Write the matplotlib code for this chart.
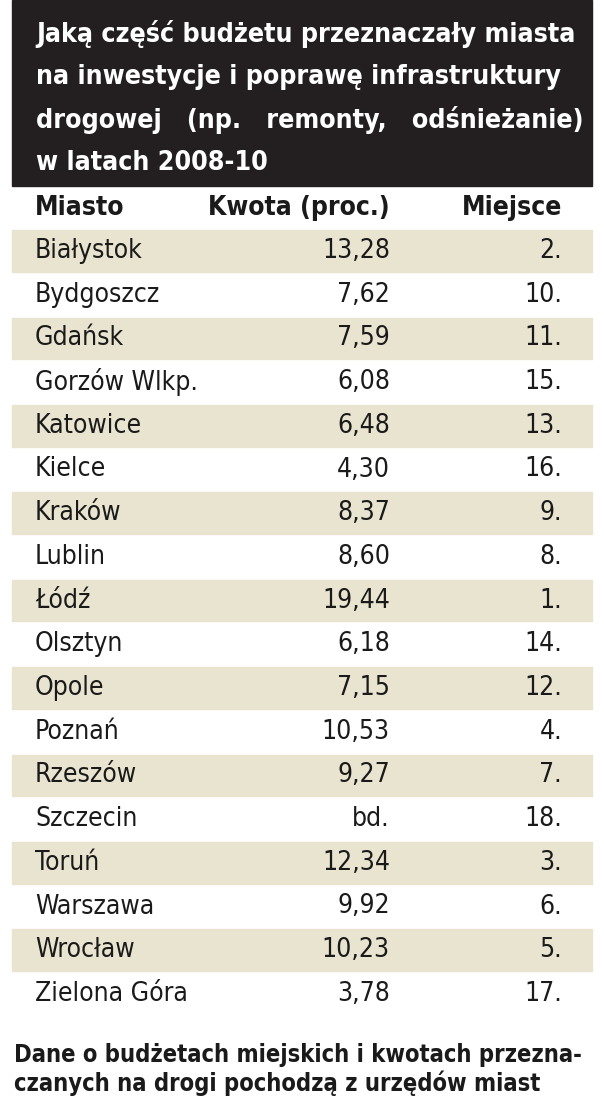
import matplotlib.pyplot as plt
from matplotlib.patches import Rectangle

title_lines = ["Jaką część budżetu przeznaczały miasta",
               "na inwestycje i poprawę infrastruktury",
               "drogowej   (np.   remonty,   odśnieżanie)",
               "w latach 2008-10"]
headers = ["Miasto", "Kwota (proc.)", "Miejsce"]
cities = ["Białystok", "Bydgoszcz", "Gdańsk", "Gorzów Wlkp.", "Katowice", "Kielce",
          "Kraków", "Lublin", "Łódź", "Olsztyn", "Opole", "Poznań", "Rzeszów",
          "Szczecin", "Toruń", "Warszawa", "Wrocław", "Zielona Góra"]
amounts = ["13,28", "7,62", "7,59", "6,08", "6,48", "4,30", "8,37", "8,60", "19,44",
           "6,18", "7,15", "10,53", "9,27", "bd.", "12,34", "9,92", "10,23", "3,78"]
ranks = ["2.", "10.", "11.", "15.", "13.", "16.", "9.", "8.", "1.", "14.", "12.",
         "4.", "7.", "18.", "3.", "6.", "5.", "17."]
footer = ["Dane o budżetach miejskich i kwotach przezna-",
          "czanych na drogi pochodzą z urzędów miast"]

plt.rcParams['font.family'] = ['DejaVu Sans']
fig = plt.figure(figsize=(6.04, 11.16), dpi=100)
ax = fig.add_axes([0, 0, 1, 1])
ax.set_xlim(0, 604)
ax.set_ylim(1116, 0)
ax.axis('off')

fs = dict(fontstretch='condensed', fontweight='bold', color='#1a1a1a')

# title box
ax.add_patch(Rectangle((12, 0), 580, 186, color='#231f20'))
for i, line in enumerate(title_lines):
    ax.text(36, 34 + i * 43, line, fontsize=19.2, color='white', va='center',
            fontweight='bold', fontstretch='condensed')

# header
ax.text(35, 208, headers[0], fontsize=19, va='center', **fs)
ax.text(390, 208, headers[1], fontsize=19, va='center', ha='right', **fs)
ax.text(562, 208, headers[2], fontsize=19, va='center', ha='right', **fs)

row_h = 43.7
for i, (c, a, r) in enumerate(zip(cities, amounts, ranks)):
    y = 251 + i * row_h
    if i % 2 == 0:
        ax.add_patch(Rectangle((12, y - row_h / 2 + 1), 580, row_h - 2,
                               color='#e8e4cf', zorder=0))
    kw = dict(fontsize=19, va='center', fontstretch='condensed', color='#1a1a1a')
    ax.text(35, y, c, **kw)
    ax.text(390, y, a, ha='right', **kw)
    ax.text(562, y, r, ha='right', **kw)

for i, line in enumerate(footer):
    ax.text(14, 1055 + i * 28, line, fontsize=17, va='center', fontweight='semibold',
            fontstretch='condensed', color='#1a1a1a')

fig.savefig('out.png', dpi=100)
